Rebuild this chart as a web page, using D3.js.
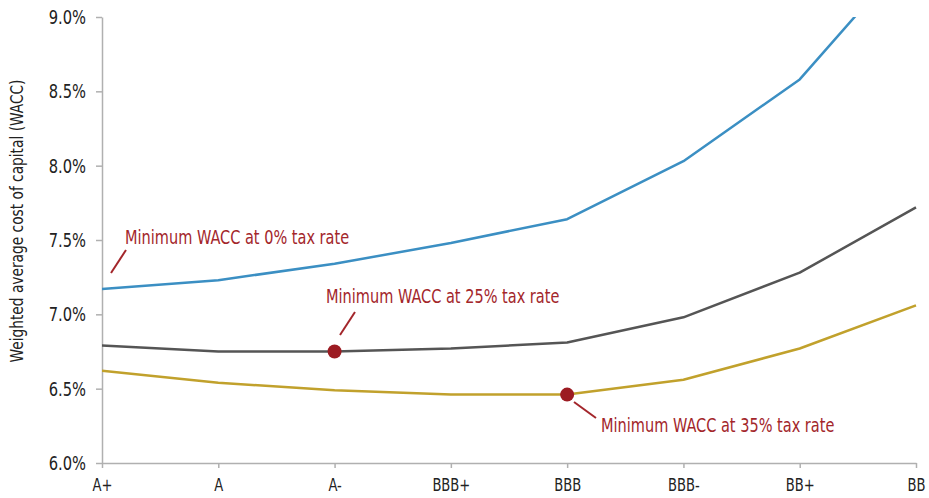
<!DOCTYPE html>
<html>
<head>
<meta charset="utf-8">
<script src="https://cdn.jsdelivr.net/npm/d3@7"></script>
<style>
  html, body { margin: 0; padding: 0; background: #fff; }
  svg text { font-family: "Liberation Sans Narrow", "DejaVu Sans Condensed", "Arial Narrow", sans-serif; }
</style>
</head>
<body>
<svg id="chart" width="929" height="498"></svg>
<script>
// Credit ratings along the x axis
const ratings = ["A+", "A", "A-", "BBB+", "BBB", "BBB-", "BB+", "BB"];
// WACC (%) at each rating, by marginal tax rate
const wacc0 = [7.17, 7.23, 7.34, 7.48, 7.64, 8.03, 8.58, 9.47];
const wacc25 = [6.79, 6.75, 6.75, 6.77, 6.81, 6.98, 7.28, 7.72];
const wacc35 = [6.62, 6.54, 6.49, 6.46, 6.46, 6.56, 6.77, 7.06];
const yTicks = [6.0, 6.5, 7.0, 7.5, 8.0, 8.5, 9.0];

const series = [
  { name: "0%", values: wacc0, color: "#3b8fc3" },
  { name: "25%", values: wacc25, color: "#555555" },
  { name: "35%", values: wacc35, color: "#c1a12c" }
];

// Minimum points highlighted with a callout
const callouts = [
  { text: "Minimum WACC at 0% tax rate", series: 0, idx: 0, dot: false, lx1: 111, ly1: 273, lx2: 126, ly2: 250, tx: 125, ty: 244 },
  { text: "Minimum WACC at 25% tax rate", series: 1, idx: 2, dot: true, lx1: 340, ly1: 335, lx2: 355, ly2: 312, tx: 326, ty: 303 },
  { text: "Minimum WACC at 35% tax rate", series: 2, idx: 4, dot: true, lx1: 574, ly1: 402, lx2: 596, ly2: 418, tx: 601, ty: 432 }
];

const margin = { top: 17, right: 13, bottom: 35, left: 102 };
const width = 929, height = 498;
const svg = d3.select("#chart");

const x = d3.scalePoint().domain(ratings).range([margin.left, width - margin.right]);
const y = d3.scaleLinear().domain([6.0, 9.0]).range([height - margin.bottom, margin.top]);

const axisColor = "#b0b0b0";
// Narrow the glyphs horizontally for a condensed look
const squeeze = 0.86;

// Clip the lines at the top of the value range
svg.append("defs").append("clipPath").attr("id", "plot-clip")
  .append("rect")
  .attr("x", margin.left).attr("y", y(9.0))
  .attr("width", width - margin.left).attr("height", y(6.0) - y(9.0));

// Y axis
const yAxis = svg.append("g")
  .attr("transform", `translate(${margin.left},0)`)
  .call(d3.axisLeft(y).tickValues(yTicks).tickFormat(d => d.toFixed(1) + "%").tickSize(6).tickSizeOuter(0));
yAxis.select(".domain").attr("stroke", axisColor).attr("stroke-width", 1.5);
yAxis.selectAll(".tick line").attr("stroke", axisColor).attr("stroke-width", 1.5);
yAxis.selectAll(".tick text")
  .attr("fill", "#222").attr("font-size", 19)
  .attr("transform", `scale(${squeeze},1)`)
  .attr("x", -16 / squeeze).attr("dy", "0.35em");

// X axis
const xAxis = svg.append("g")
  .attr("transform", `translate(0,${y(6.0)})`)
  .call(d3.axisBottom(x).tickSize(5).tickSizeOuter(0));
xAxis.select(".domain").attr("stroke", axisColor).attr("stroke-width", 1.5);
xAxis.selectAll(".tick line").attr("stroke", axisColor).attr("stroke-width", 1.5);
xAxis.selectAll(".tick text")
  .attr("fill", "#222").attr("font-size", 18)
  .attr("transform", "scale(0.81,1)")
  .attr("y", 15);

// Y axis title
svg.append("text")
  .attr("transform", `translate(23,221) rotate(-90) scale(0.9,1)`)
  .attr("text-anchor", "middle")
  .attr("font-size", 17)
  .attr("fill", "#222")
  .text("Weighted average cost of capital (WACC)");

// Lines
const line = d3.line().x((d, i) => x(ratings[i])).y(d => y(d));
svg.append("g").attr("clip-path", "url(#plot-clip)")
  .selectAll("path")
  .data(series)
  .join("path")
  .attr("d", d => line(d.values))
  .attr("fill", "none")
  .attr("stroke", d => d.color)
  .attr("stroke-width", 2.5)
  .attr("stroke-linejoin", "round");

// Callouts
const calloutColor = "#a3262b";
const g = svg.append("g");
callouts.forEach(c => {
  g.append("line")
    .attr("x1", c.lx1).attr("y1", c.ly1).attr("x2", c.lx2).attr("y2", c.ly2)
    .attr("stroke", calloutColor).attr("stroke-width", 2);
  if (c.dot) {
    g.append("circle")
      .attr("cx", x(ratings[c.idx]))
      .attr("cy", y(series[c.series].values[c.idx]))
      .attr("r", 7)
      .attr("fill", "#9c1b22");
  }
  g.append("text")
    .attr("transform", `translate(${c.tx},${c.ty}) scale(0.85,1)`)
    .attr("font-size", 19)
    .attr("fill", calloutColor)
    .text(c.text);
});
</script>
</body>
</html>
